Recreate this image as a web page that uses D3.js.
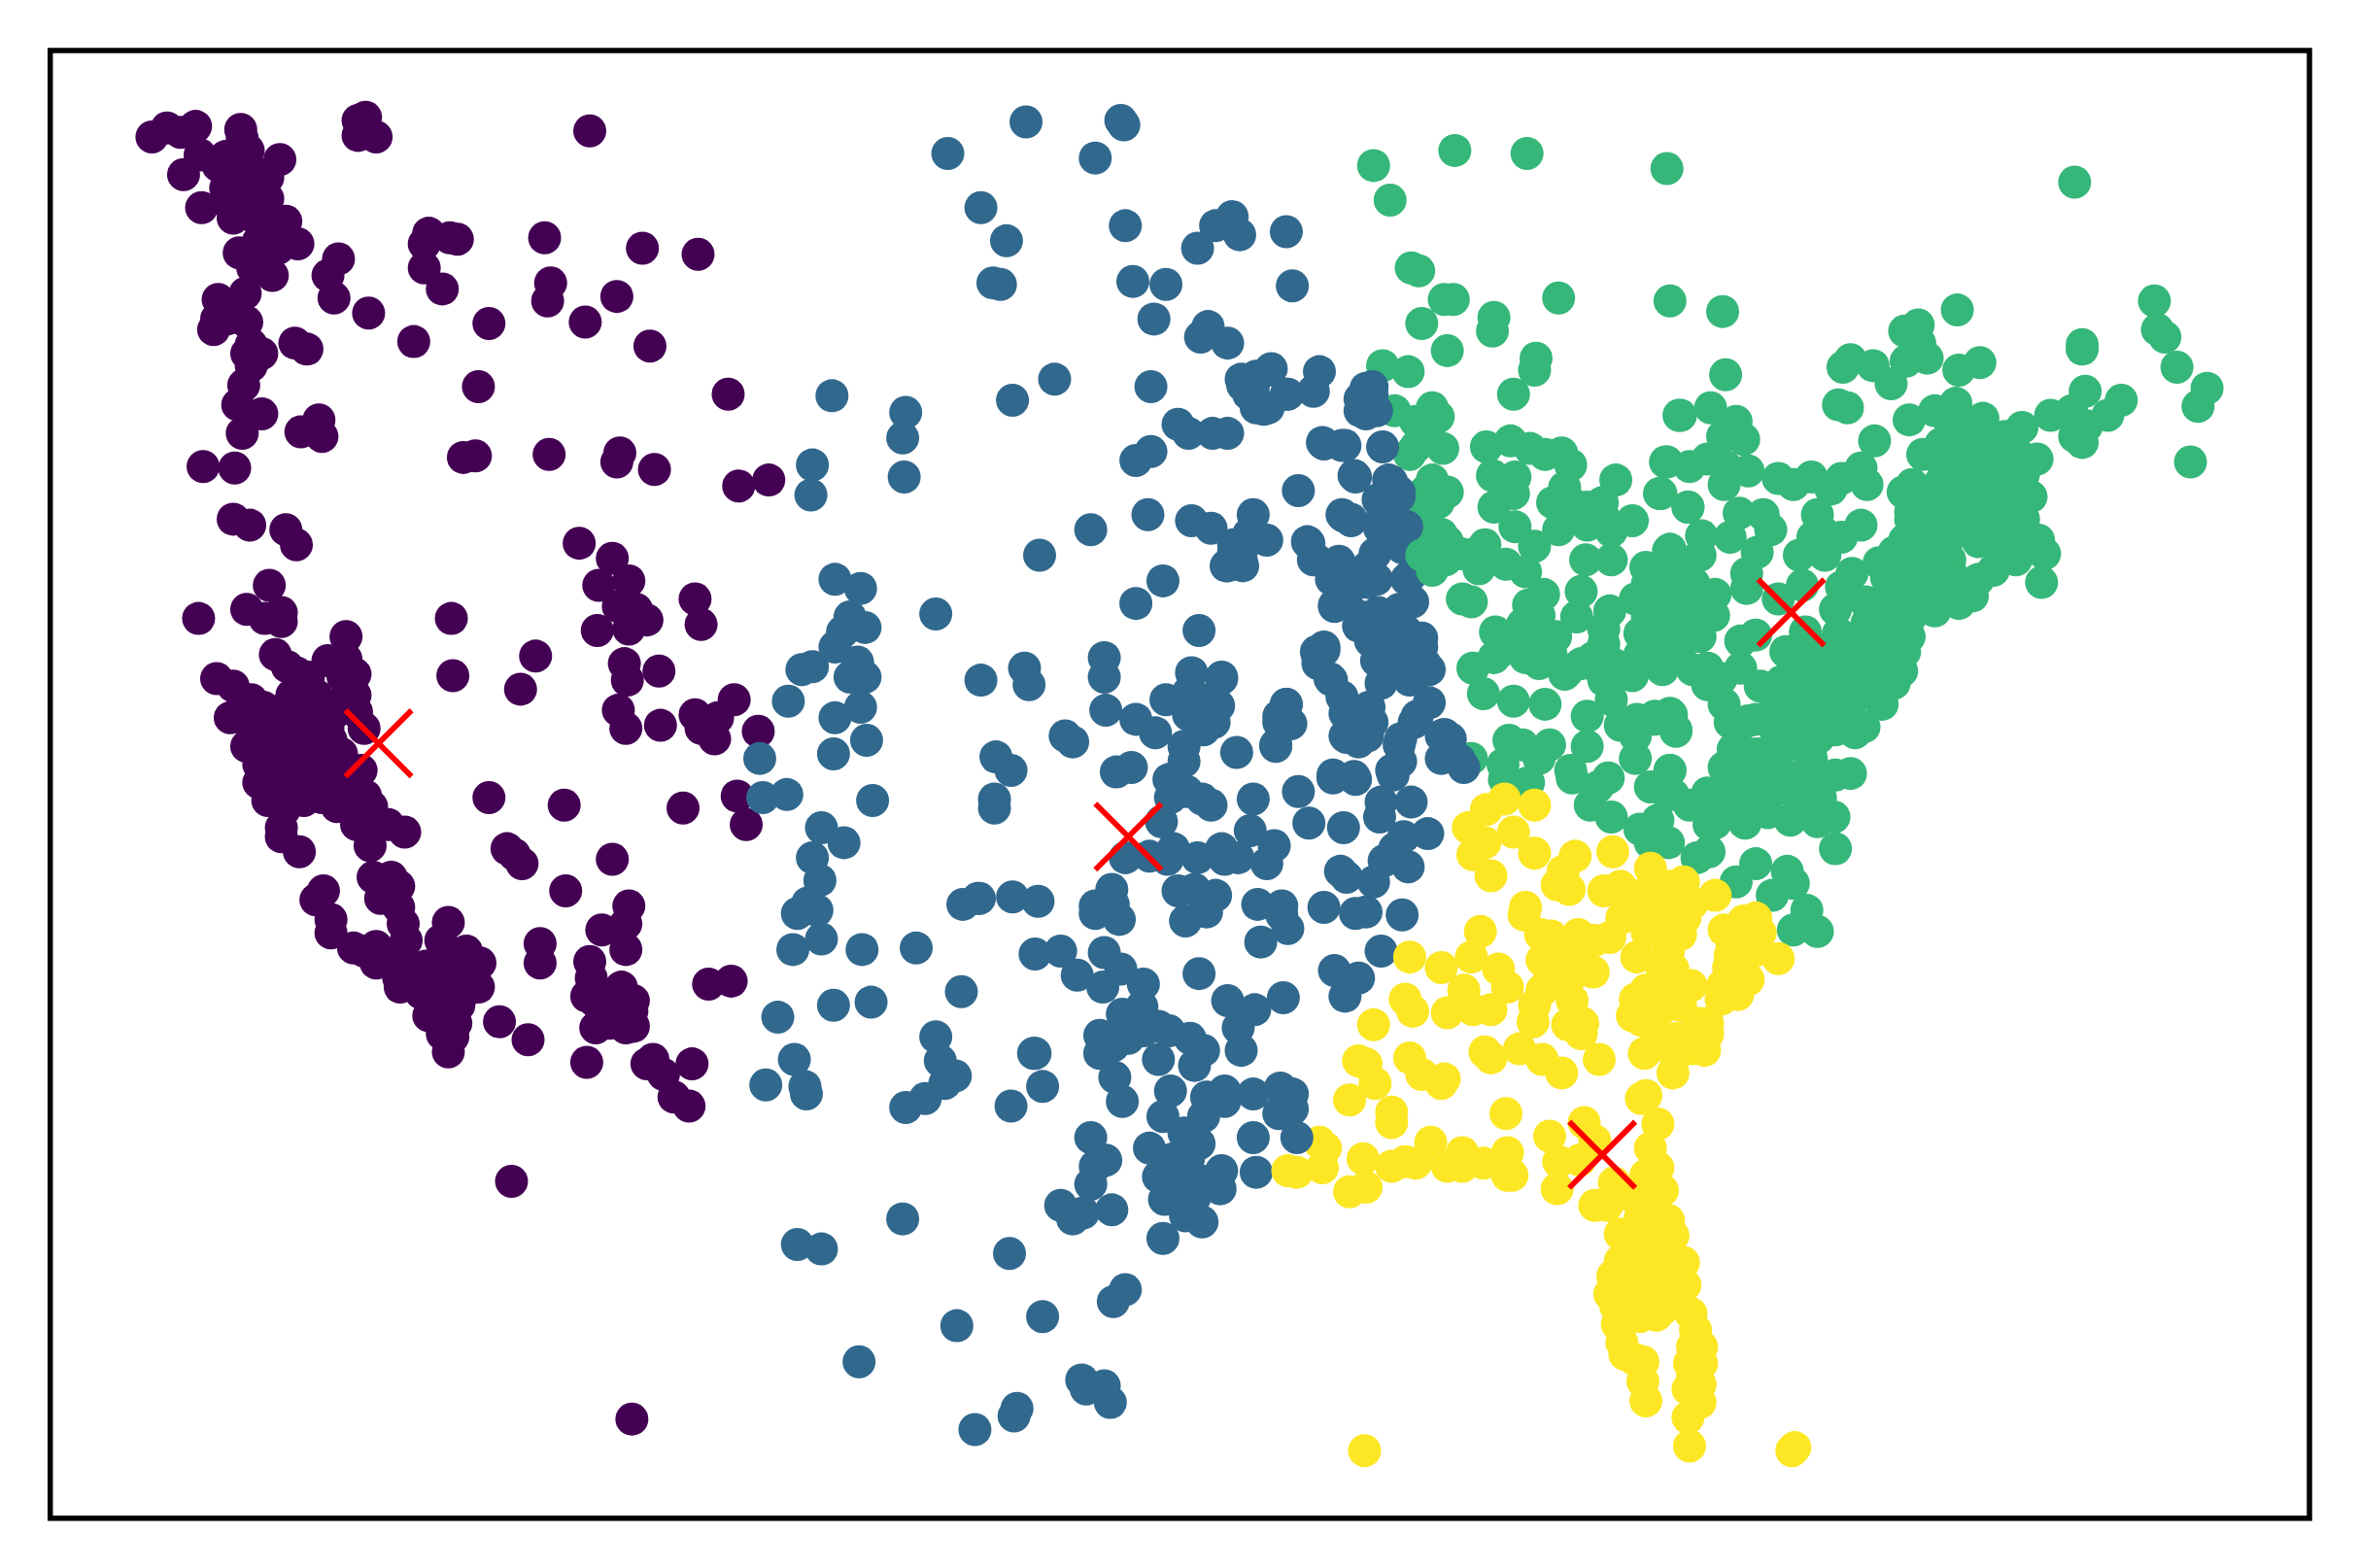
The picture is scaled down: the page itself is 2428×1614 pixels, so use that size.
<!DOCTYPE html>
<html><head><meta charset="utf-8">
<script src="https://cdn.jsdelivr.net/npm/d3@7"></script>
<style>html,body{margin:0;padding:0;background:#fff}svg{display:block}</style>
</head><body><div id="chart"></div>
<script>
const clusterA = [[101,91],[111,85],[120,88],[130,84],[160,86],[161,92],[133,103],[122,116],[186,106],[150,104],[165,100],[160,110],[145,110],[155,118],[170,115],[150,125],[165,125],[178,118],[134,138],[152,135],[168,135],[178,132],[155,145],[170,145],[190,147],[180,155],[198,162],[159,168],[175,165],[185,165],[168,178],[181,183],[172,160],
[225,172],[218,183],[222,198],[245,208],[275,227],[285,155],[299,158],[304,159],[282,162],[282,178],[294,192],[325,215],[362,158],[427,165],[464,169],[366,188],[364,200],[410,197],[389,214],[432,230],[318,257],[484,262],
[243,78],[238,80],[238,90],[250,91],[392,87],[145,199],[163,195],[144,212],[142,219],[164,214],[151,212],[196,228],[204,232],[164,235],[174,235],[167,229],[167,243],[162,256],[158,269],[174,275],[161,288],[212,279],[200,287],[214,290],[135,310],[156,311],[308,304],[316,303],[365,302],[412,301],[410,307],[435,312],[491,323],[511,319],[155,345],[166,349],[190,352],[197,362],[385,361],[407,371],[398,389],[418,386],[411,403],[423,405],[430,412],[397,419],[418,418],[179,389],[462,398],[466,415],[132,411],[164,405],[176,411],[187,407],[187,413],[300,411],
[230,423],[183,435],[191,443],[218,439],[230,438],[236,448],[301,449],[356,436],[346,458],[415,441],[417,452],[438,446],[411,472],[416,484],[439,482],[462,475],[488,465],[477,477],[466,484],[475,491],[504,486],
[144,451],[155,456],[167,465],[153,477],[204,458],[194,462],[210,462],[235,461],[237,473],[242,484],[227,501],[240,512],[243,529],[224,536],[164,496],
[175,470],[187,472],[199,472],[211,472],[222,474],[170,482],[182,484],[194,484],[206,484],[218,484],[172,495],[184,496],[196,496],[208,496],[220,492],[172,508],[184,508],[196,508],[208,508],[220,510],[172,520],[184,520],[196,520],[208,520],[220,522],[232,522],[178,532],[190,532],[202,532],[214,530],[232,534],
[197,447],[205,450],[170,470],[165,480],[228,450],[236,462],[220,469],[217,491],[233,521],[230,533],[247,536],
[189,538],[187,550],[187,556],[199,566],[237,548],[258,548],[269,553],[246,562],[238,541],[325,530],[375,535],[454,537],[490,529],[496,548],[337,564],[342,568],[347,574],[407,571],[376,592],[215,592],[210,598],[220,611],[220,620],[248,583],[260,583],[265,589],[253,597],[265,603],[268,614],[298,613],[293,625],[235,630],[250,629],[250,640],[263,635],[266,656],[359,627],[359,640],[418,602],[400,618],[416,614],[416,631],[392,639],[393,650],[390,662],[411,660],[421,665],[396,683],[416,683],[421,682],[471,654],[486,652],[390,706],[430,707],[434,704],[441,714],[460,707],[448,729],[458,735],[332,679],[351,691],[319,640],[318,656],[283,642],[299,637],[283,655],[299,652],[290,667],[303,680],[294,687],[298,699],[301,689],[309,645],[272,646],[308,660],[292,660],[398,668],[405,672],
[242,632],[258,640],[270,640],[265,650],[275,655],[290,640],[310,632],[280,660],[285,675],[295,672],[305,668],[270,625],[268,650],[306,650],[395,665],[405,665],[412,675],[405,680],[420,672],[413,656],[340,785],[420,943]];

const clusterB = [[630,102],[682,81],[745,80],[747,83],[728,105],[652,138],[669,160],[748,150],[660,188],[665,189],[753,187],[775,189],[796,165],[808,150],[819,144],[824,156],[855,154],[859,190],[767,212],[803,217],[798,224],[816,228],[877,247],[701,252],[765,257],[673,266],[553,263],[602,274],[600,291],[601,317],[540,309],[539,329],
[825,252],[835,250],[845,245],[830,262],[840,272],[855,262],[873,260],[833,258],[908,258],[912,262],[905,270],[915,273],[908,275],[919,297],[879,294],[892,296],[783,282],[790,288],[806,288],[816,288],[765,300],[755,306],
[863,326],[900,316],[925,320],[930,330],[922,335],[935,350],[925,360],[892,342],[898,345],[869,360],[833,342],[792,346],[805,351],[763,342],[725,352],[691,369],[830,355],[820,362],[825,372],[815,376],
[875,372],[890,373],[885,385],[905,380],[915,385],[895,400],[887,402],[935,385],[930,405],[905,410],[915,420],[925,430],[935,420],[945,430],[950,445],[920,440],[940,450],[880,430],[876,437],[885,452],[895,470],[910,470],[895,490],[905,490],[912,480],[940,480],[930,495],[960,488],[970,505],
[912,257],[904,265],[904,273],[880,295],[894,296],[901,317],[923,319],[930,327],[916,332],[893,343],[898,346],[919,342],[933,349],[917,351],[842,359],[829,360],[826,376],[816,376],[820,366],[870,361],[873,372],[890,377],[909,377],[914,368],[932,364],[937,383],[939,400],[891,389],[909,387],[887,403],[916,407],[903,416],[911,426],[915,439],[945,424],[947,441],[937,431],[924,422],[930,437],[937,452],[918,454],[950,467],[942,476],[958,489],[964,491],[973,510],[958,504],[931,491],[931,506],[926,515],[880,432],[875,433],[876,441],[884,451],[892,463],[902,474],[894,474],[894,489],[909,489],[903,493],[855,468],[850,476],[858,481],[848,495],[886,515],[900,516],[812,450],[810,469],[807,480],[826,256],[844,246],[835,271],[843,271],[856,262],
[773,386],[755,401],[797,419],[622,408],[555,385],[572,391],[565,410],[575,417],[560,420],[555,430],[570,440],[565,450],[575,450],[540,443],[533,445],[652,452],[681,444],[684,455],[734,437],[734,450],[735,472],[524,466],[572,470],[555,477],[505,504],[554,501],[576,492],[507,530],[523,528],[580,532],
[792,447],[812,451],[790,460],[775,465],[800,465],[790,475],[800,485],[755,478],[768,487],[855,468],[850,480],
[662,503],[672,512],[661,531],[661,537],[713,493],[708,489],[742,513],[752,510],[787,496],[787,506],[777,518],[778,530],[789,526],[799,531],[805,535],[822,500],[848,496],[833,531],[863,526],[870,547],[893,550],[886,517],[901,518],[918,533],[925,512],[938,533],[917,543],[949,554],[933,556],[927,564],[920,572],[936,576],[891,579],[895,583],[913,586],[880,603],[901,607],[908,606],[932,608],[918,632],[887,645],[903,650],[894,662],
[772,546],[780,564],[748,570],[764,569],[776,571],[796,570],[812,564],[814,571],[823,570],[831,552],[847,562],[842,574],[739,591],[728,602],[728,607],[744,611],[740,601],[783,592],[794,591],[808,595],[802,606],[788,612],[836,601],[852,602],[856,617],[838,626],[852,608],
[651,597],[673,596],[690,599],[640,601],[688,634],[705,632],[716,648],[734,633],[745,644],[733,656],[760,654],[797,647],[816,665],[834,671],[853,663],[823,683],[825,698],[746,674],[759,669],[731,688],[731,700],[750,690],[770,682],[777,685],[791,690],[800,698],[770,704],[794,708],[741,716],[746,732],[688,700],[693,722],[672,735],[745,685],[760,685],[740,695],
[778,725],[773,742],[802,729],[814,725],[814,732],[833,727],[851,723],[859,727],[859,737],[850,740],[833,756],[835,779],[800,742],[787,753],[797,760],[764,763],[812,778],[811,790],[787,781],[770,782],[774,797],[788,808],[799,812],[794,796],[773,823],[725,756],[735,771],[728,775],[725,787],[705,801],[713,810],[720,806],[739,804],[780,770],[785,795],[800,785],[780,785],[790,770],
[671,833],[748,857],[740,865],[693,875],[600,810],[530,827],[546,830],[636,881],[571,905],[719,917],[722,923],[734,921],[738,932],[676,936],[674,941],[648,950],
[546,550],[561,560],[540,570],[545,585],[537,600],[530,607],[543,605],[546,624],[527,631],[573,631],[609,630],[650,597],[639,659],[554,668],[579,666],[517,676],[528,704],[509,721],[535,722],[536,727],[622,689],[625,705],[635,715],[628,720],[615,730],[602,736],[687,700]];

const clusterBFront = [[862,756]];

const clusterC = [[913,110],[967,100],[1015,102],[1108,112],[1379,121],[924,133],[938,178],[943,180],[1036,198],[1110,200],[1145,207],[1301,206],[1432,200],[1434,219],[1439,224],[1447,244],[1467,258],[1461,270],[1456,307],[1384,229],[1384,232],[1266,220],[1275,216],[1276,228],[1267,240],[1281,238],[1302,246],[1316,241],[1230,239],[1225,244],[1245,243],[1257,255],[1147,249],[1222,269],[1228,271],[1246,293],[1269,279],[1116,276],[1137,271],[1154,280],[1159,292],[1145,290],[1386,260],[1410,266],[1401,276],[1377,273],[1363,276],[1344,284],[1379,290],[1384,294],[1387,283],[1300,268],[1286,273],[1318,278],[1312,285],[1278,302],[1290,306],[1333,290],[1354,305],[1338,310],[1296,280],[1301,290],[1315,300],[1303,315],[1320,315],[1335,325],[1340,338],[1320,334],[1303,334],[1286,330],[1271,322],[1265,327],[1270,340],[1355,359],[1359,368],[1357,387],[1286,349],[1308,349],[1328,354],[1345,359],[1340,372],[1325,379],[1311,396],[1302,401],[1286,406],[1266,359],[1259,367],[1278,372],[1296,372],[1249,374],[1254,384],[1276,389],[1241,414],[1256,409],[1269,423],[1266,433],[1264,446],[1259,454],[1251,468],[1239,483],[1233,487],[1230,514],[1246,433],[1231,433],[1222,421],[1212,433],[1197,433],[1226,453],[1207,458],[1187,433],[1184,453],[1170,456],[1167,478],[1190,478],[1209,478],[1209,490],[1191,495],[1204,504],[1191,517],[1210,530],[1219,543],[1207,542],[1290,390],[1240,400],[1215,445],[1195,465],[1235,450],[1225,470],[1180,470],[1220,405],[1200,420],
[1270,345],[1280,335],[1295,325],[1310,325],[1325,345],[1295,340],[1310,340],[1280,360],[1295,358],[1315,360],[1330,368],[1270,360],[1285,375],[1300,385],[1315,385],[1262,375],[1270,395],[1285,392],[1255,395],[1270,410],[1245,410],[1235,425],[1250,420],[1255,435],[1240,445],[1250,450],[1218,430],[1205,445],[1195,450],[1218,458],[1240,460],[1230,475],[1215,470],[1200,470],[1180,485],[1195,490],[1220,485],[1205,515],[1180,505],[1165,515],[1180,525],[1195,530],[1175,540],[1190,545],[1160,500],[1150,510],[1150,480],[1300,300],[1310,310],[1290,320],[1325,300],[1340,300],[1345,315],[1350,330],[1330,310],[1345,345],[1290,295],
[1107,307],[1103,328],[1122,337],[1123,310],[1135,305],[1147,310],[1162,313],[1146,322],[1182,318],[1192,322],[1204,317],[1224,318],[1237,311],[1241,322],[1217,325],[1156,341],[1177,352],[1172,342],[1168,367],[1161,381],[1161,391],[1131,356],[1150,357],[1130,369],[1110,365],[1108,377],[1130,394],[1139,409],[1113,409],[1105,419],[1116,434],[1130,423],[1135,444],[1146,468],[1144,451],[1157,426],[1167,422],[1157,444],[1162,479],[1208,342],[1212,354],[1205,357],[1224,357],[1237,349],[1196,369],[1213,369],[1231,381],[1224,390],[1198,389],[1182,398],[1152,498],[1168,501],[1146,510],[1152,522],[1168,526],[1110,512],[1108,527],[1123,535],[1135,527],[1147,532],[1162,537],[1100,478],[1110,474],[1114,486],[1102,545],[1140,547],[1160,547],
[1118,378],[1120,395],[1108,392],[1118,420],[1140,395],[1125,410],[1100,400],[1095,410],[1100,430],[1105,445],[1125,445],[1135,455],[1095,388],[1105,378],[1115,405],[1102,418],[1090,435],
[1012,415],[1023,424],[1008,428],[1042,446],[1023,441],[1051,441],[997,433],[1066,452],[1072,441],[1059,437],[1066,418],[1044,344],[1055,349],[1066,344],[1044,334],[962,360],[971,368],[980,368],[950,362],[962,327],[947,327],[945,286],[937,302],
[960,199],[966,199],[945,215],[993,211],[992,220],[962,233],[1021,238],[1020,246],[1006,262],[919,243],[936,247],[927,273],[952,271],[956,277],[941,280],[959,298],[941,297],[988,297],[1004,293],[1017,298],[1027,302],[1038,301],[1044,309],[992,316],[1007,317],[1006,328],[993,337],[1007,350],[1040,324],[1074,319],[1032,334],[1055,337],[1065,334],[1085,346],[1036,352],[1071,353],[1020,363],[952,319],[956,334],[947,343],[958,355],[961,372],[987,362],[983,378],[978,400],[972,398],[1001,375],[1014,380],[1026,395],[1016,402],[1054,372],[1051,393],[1048,410],[1071,372],[1070,406],[1090,421],[1116,434],[994,420],[1023,409],[1014,437],[1034,423],[1001,431],[993,437],[979,444],[986,461],[1006,466],[1027,468],[1040,448],[1031,435],[1085,449],[1066,428],[1064,446],[1071,465],[1055,476],[1077,482],[1088,478],[1100,476],[1111,475],[1114,485],[1087,489],[1055,496],[1087,504],[1110,512],[1069,517],[1003,492],[1012,495],[1030,495],[999,508],[1023,504],[1044,512],[978,504],[1117,276],[1108,307],[1104,328],[1122,337],[1109,366],[1094,377],[1087,398],[1109,409],[1126,388],
[1057,535],[1071,543],[1090,551],[1097,560],[1109,560],[1128,570],[1136,548],[1159,546],[1169,528],[1191,520],[1208,546],[1220,564],[1154,586],[1167,574],[1178,595],[1188,579],[1192,587],[1201,605],[1192,618],[1208,619],[1112,528],[1097,523],[1149,531],[1136,528],[1161,531],[1136,566],[1000,518],[1016,520],[1045,517],[1062,523],[1175,525],[1220,515],[1175,500]];

const clusterCFront = [[945,369],[952,379]];

const clusterD = [[1000,531],[1020,535],[988,538],[976,550],[1006,553],[987,560],[979,568],[991,582],[1020,567],[1047,569],[1039,579],[1035,588],[1043,591],[1072,566],[1066,592],[1077,589],[1097,577],[1109,589],[1119,586],[1140,595],[1104,603],[1096,608],[1078,610],[1014,603],[1013,608],[984,619],[1024,621],[1031,622],[1049,621],[1070,623],[1088,636],[1117,621],[1109,632],[1112,644],[1059,646],[1025,638],[1038,644],[1025,658],[1041,655],[1020,668],[1019,679],[937,636],[958,643],[978,636],[996,644],[1002,656],[934,664],[939,672],[962,673],[973,658],[979,671],[991,671],[913,681],[1042,681],[1052,680],[1051,687],[987,699],[991,703],[1010,697],[1025,704],[1038,713],[1063,704],[903,705],[908,707],[914,720],[897,731],[937,703],[945,714],[960,717],[958,720],[925,739],[925,746],[1001,740],[877,759],[881,763],[879,776],[856,778],[862,779],[906,770],[897,792],[908,789],[925,775],[934,772],[941,773],[951,759],[962,775],[972,766],[972,775],[986,773],[1002,766],[1002,781],[1005,781],[1030,755],[1036,772],[1035,790],[1053,746],[1060,758],[1050,771],[1073,786],[1060,801],[1068,801],
[1030,630],[1040,632],[1050,630],[1060,625],[1035,650],[1050,645],[1045,665],[1030,650],[1100,615],[1105,645],[1120,610],[1125,600],[1085,600],[1110,600],[1100,590],[1090,595],[1115,590],[1095,620],[1150,635],[1155,645],[1145,655],[1170,620],[1135,680],[1125,690],[1115,690],[1105,690],[1100,695],[1085,675],
[1087,664],[1096,664],[1094,658],[1091,678],[1104,671],[1117,668],[1124,655],[1109,652],[1129,680],[1135,687],[1133,698],[1093,700],[1114,701],[1124,697],[1112,713],[1091,730],[1094,728],[1102,747],[1097,763],[1102,776],[1094,781],[1105,791],[1082,794],[1099,805],[1109,811],[1112,821],[1077,820],[1092,822],[1119,839],[1120,854],[1077,838],[1072,848],[1070,860],[1087,848],[1102,846],[1107,860],[1090,863],[1101,874],[1075,880],[1078,892],[1086,903],[1092,905],[1092,918],[1094,931],[1124,873],[1127,884],[1131,895],[1131,906],[1123,906],[1122,923],[1130,920],[1130,932],[1122,942],[1123,961],[1193,962],[1191,964],[907,964],
[1085,830],[1100,825],[1110,835],[1095,845],[1085,860],[1095,858],[1110,850],[1115,862],[1105,870],[1080,870],[1090,875],[1082,845],[1074,868],[1100,795],[1090,810],[1095,835],[1080,900],[1125,895],[1125,915],[1128,900],
[1159,612],[1167,610],[1146,618],[1151,626],[1166,632],[1182,637],[1149,643],[1162,651],[1155,661],[1144,664],[1090,835],[1100,835]];

const centroids = [[251.6,494],[750,556],[1190.6,407],[1065,767.4]];
const layers = [clusterA, clusterC, clusterB, clusterCFront, clusterD, clusterBFront];
const layerColors = ["#440154","#35b779","#31688e","#35b779","#fde725","#31688e"];

const width = 2428, height = 1614;
const x = d3.scaleLinear().domain([0,1568]).range([0,width]);
const y = d3.scaleLinear().domain([0,1042]).range([0,height]);

const svg = d3.select("#chart").append("svg").attr("width",width).attr("height",height);
svg.append("rect").attr("width",width).attr("height",height).attr("fill","#fff");

layers.forEach((pts,i)=>{
  svg.append("g").selectAll("circle").data(pts).join("circle")
    .attr("cx",d=>x(d[0])).attr("cy",d=>y(d[1])).attr("r",17).attr("fill",layerColors[i]);
});

const cross = d3.symbol(d3.symbolTimes, 3024);
svg.append("g").selectAll("path").data(centroids).join("path")
  .attr("d",cross).attr("transform",d=>`translate(${x(d[0])},${y(d[1])})`)
  .attr("fill","none").attr("stroke","#ff0000").attr("stroke-width",5.8);

svg.append("rect").attr("x",51.7).attr("y",52).attr("width",2325.3).attr("height",1510.8)
  .attr("fill","none").attr("stroke","#000").attr("stroke-width",5.5);
</script></body></html>
